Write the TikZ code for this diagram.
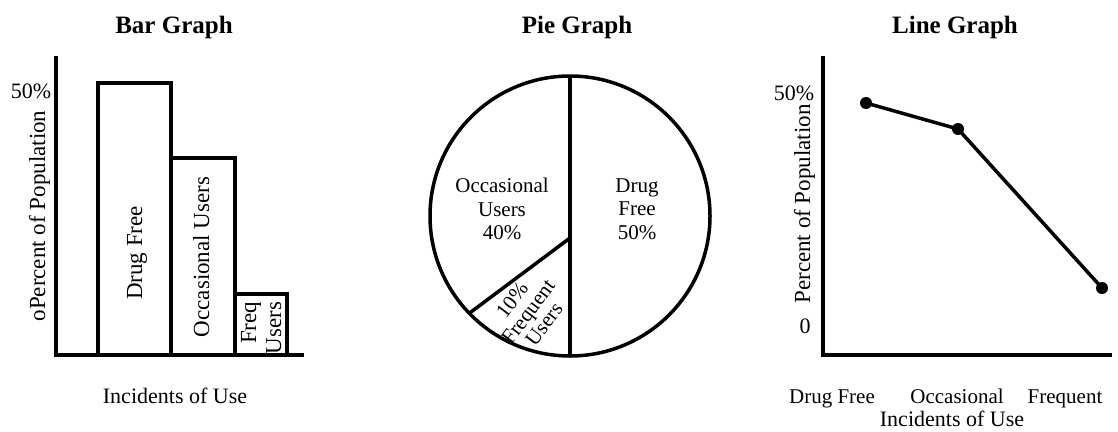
\documentclass[tikz,border=0pt]{standalone}
\usepackage{fontspec}
\setmainfont{Liberation Serif}
\usetikzlibrary{calc}
\begin{document}
\begin{tikzpicture}[x=1pt,y=-1pt,line width=3.5pt,
  txt/.style={inner sep=0pt,font=\fontsize{22}{24}\selectfont},
  ptxt/.style={inner sep=0pt,font=\fontsize{21}{23.5}\selectfont},
  vtxt/.style={inner sep=0pt,font=\fontsize{23}{25}\selectfont,rotate=90},
  wtxt/.style={inner sep=0pt,font=\fontsize{21}{20}\selectfont,rotate=53,align=center},
  ttl/.style={inner sep=0pt,font=\fontsize{25}{28}\selectfont\bfseries,anchor=base},
  axis/.style={line width=3.5pt,line cap=rect},
  dot/.style={circle,fill=black,minimum size=12pt,inner sep=0pt}]
\useasboundingbox (0,0) rectangle (1118,431);
% titles
\node[ttl] (tbar) at (174,33) {Bar Graph};
\node[ttl] (tpie) at (577,33) {Pie Graph};
\node[ttl] (tline) at (955,33) {Line Graph};
% ---------- bar graph
\draw[axis] (56,58) |- (302,355);
\draw (98,355) |- (171,83) -- (171,355);
\draw (171,158) -| (235,355);
\draw (235,294) -| (287,355);
\node[txt,anchor=base] (b50) at (31,98) {50\%};
\node[vtxt,anchor=base] (bylab) at (45,216) {oPercent of Population};
\node[vtxt,anchor=base] (bdf) at (142,253) {Drug Free};
\node[vtxt,anchor=base] (bocc) at (209,257) {Occasional Users};
\node[vtxt,anchor=base east] (bfreq) at (256,300) {Freq};
\node[vtxt,anchor=base east] (busers) at (281,300) {Users};
\node[txt,anchor=base] (bxlab) at (175,403) {Incidents of Use};
% ---------- pie graph
\coordinate (pc) at (570,216);
\draw (pc) circle (140);
\draw (570,76) -- (570,356);
\coordinate (wv) at (570,238);
\coordinate (we) at ($(pc)+(136:140)$);
\draw (wv) -- (we);
\node[ptxt,align=center] (pocc) at (502,209) {Occasional\\Users\\40\%};
\node[ptxt,align=center] (pdf) at (637,209) {Drug\\Free\\50\%};
\node[wtxt] (pfu) at (528,312) {10\%\\Frequent\\Users};
% ---------- line graph
\draw[axis] (823,58) |- (1110,355);
\node[txt,anchor=base] (l50) at (794,100) {50\%};
\node[txt,anchor=base] (l0) at (805,333) {0};
\node[vtxt,anchor=base] (lylab) at (810,204) {Percent of Population};
\node[dot] (p1) at (866,103) {};
\node[dot] (p2) at (958,129) {};
\node[dot] (p3) at (1102,288) {};
\draw[line join=round] (p1.center) -- (p2.center) -- (p3.center);
\node[ptxt,anchor=base] (ldf) at (832,403) {Drug Free};
\node[ptxt,anchor=base] (locc) at (957,403) {Occasional};
\node[ptxt,anchor=base] (lfr) at (1065,403) {Frequent};
\node[txt,anchor=base] (lxlab) at (952,426) {Incidents of Use};
\end{tikzpicture}
\end{document}
